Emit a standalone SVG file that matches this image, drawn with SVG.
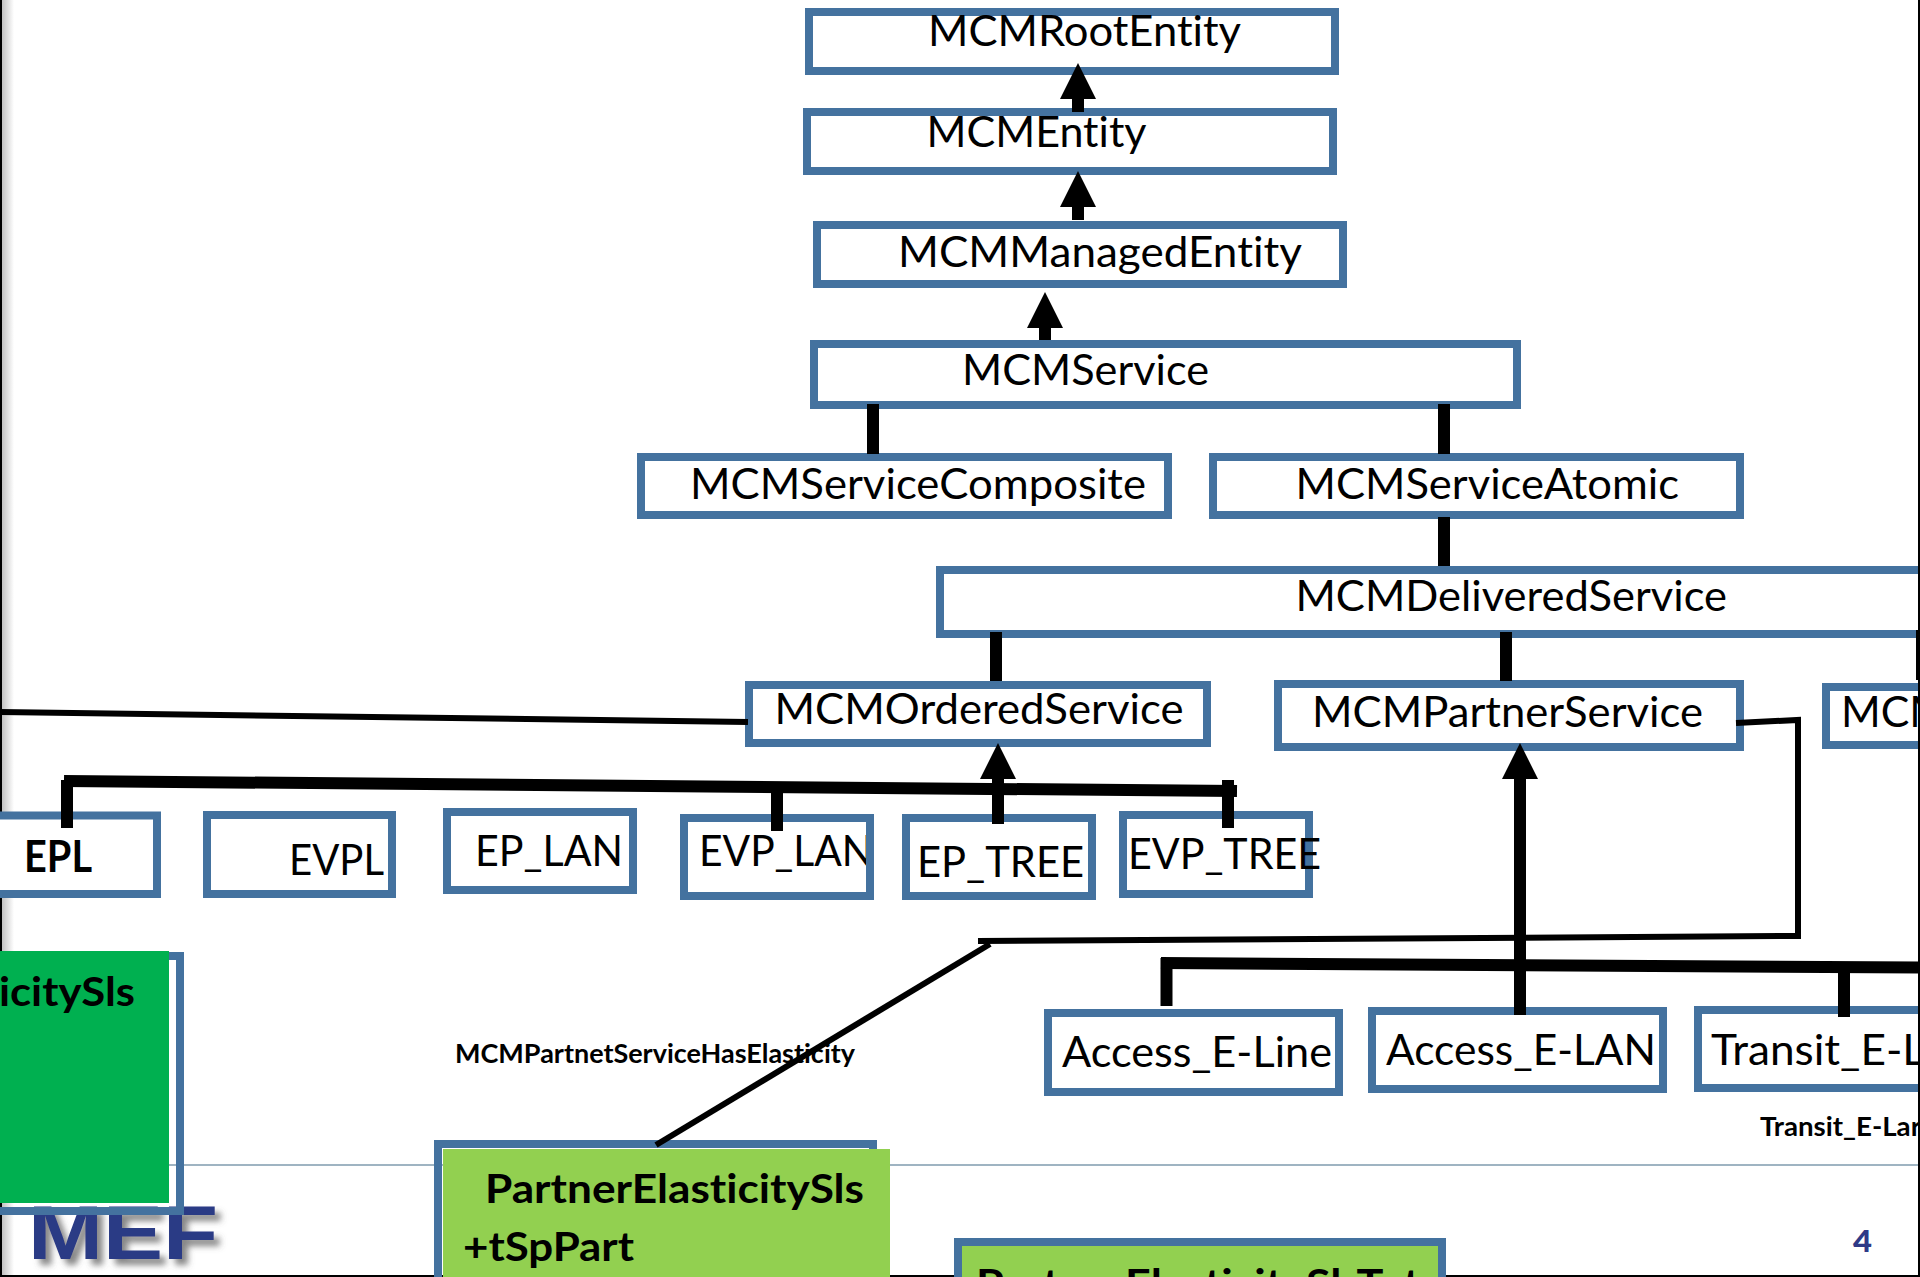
<svg xmlns="http://www.w3.org/2000/svg" width="1920" height="1277" viewBox="0 0 1920 1277">
<style>
.box{fill:#fff;stroke:#44729f;stroke-width:8}
.frame{fill:none;stroke:#44729f;stroke-width:8}
.t{font-family:Lato,"Liberation Sans",sans-serif;font-size:43px;fill:#000;font-variant-ligatures:none}
.b{font-family:Lato,"Liberation Sans",sans-serif;font-weight:700;fill:#000;font-variant-ligatures:none}
.thick{fill:none;stroke:#000;stroke-width:12}
.thin{fill:none;stroke:#000;stroke-width:6}
.head{marker-end:url(#tri)}
</style>
<defs>
<marker id="tri" markerUnits="userSpaceOnUse" markerWidth="36" markerHeight="36" refX="0" refY="18" orient="auto" viewBox="0 0 36 36"><path d="M0 0L36 18L0 36Z" fill="#000"/></marker>
<linearGradient id="edge" x1="0" x2="1" y1="0" y2="0"><stop offset="0" stop-color="#000"/><stop offset=".14" stop-color="#000"/><stop offset=".17" stop-color="#c4c4c4"/><stop offset="1" stop-color="#fff"/></linearGradient>
<filter id="shadow" x="-10%" y="-10%" width="125%" height="130%"><feDropShadow dx="6" dy="6" stdDeviation="3" flood-color="#555" flood-opacity=".7"/></filter>
</defs>
<rect width="1920" height="1277" fill="#fff"/>
<g id="frame-edge">
<rect x="0" y="0" width="14" height="1277" fill="url(#edge)"/>
<rect x="0" y="1275" width="1920" height="2" fill="#000"/>
<line x1="0" y1="1165" x2="1920" y2="1165" stroke="#9fb4c2" stroke-width="2"/>
</g>
<g id="logo"><text class="b" x="28" y="1259" font-size="76" textLength="190" lengthAdjust="spacingAndGlyphs" style="font-family:'Liberation Sans',sans-serif;fill:#2b3a85" filter="url(#shadow)">MEF</text></g>
<g id="MCMRootEntity"><rect class="box" x="809" y="12" width="526" height="59"/><text class="t" x="928" y="46" textLength="313" lengthAdjust="spacingAndGlyphs">MCMRootEntity</text></g>
<g id="MCMEntity"><rect class="box" x="807" y="112" width="526" height="59"/><text class="t" x="926.5" y="147" textLength="220" lengthAdjust="spacingAndGlyphs">MCMEntity</text></g>
<g id="MCMManagedEntity"><rect class="box" x="817" y="225" width="526" height="59"/><text class="t" x="898" y="267" textLength="404" lengthAdjust="spacingAndGlyphs">MCMManagedEntity</text></g>
<g id="MCMService"><rect class="box" x="814" y="344" width="703" height="61"/><text class="t" x="962" y="385" textLength="247" lengthAdjust="spacingAndGlyphs">MCMService</text></g>
<g id="MCMServiceComposite"><rect class="box" x="641" y="457" width="527" height="58"/><text class="t" x="690" y="499" textLength="456" lengthAdjust="spacingAndGlyphs">MCMServiceComposite</text></g>
<g id="MCMServiceAtomic"><rect class="box" x="1213" y="457" width="527" height="58"/><text class="t" x="1295.5" y="499" textLength="383.5" lengthAdjust="spacingAndGlyphs">MCMServiceAtomic</text></g>
<g id="MCMDeliveredService"><rect class="box" x="940" y="570" width="1000" height="64"/><text class="t" x="1295.5" y="611" textLength="431.5" lengthAdjust="spacingAndGlyphs">MCMDeliveredService</text></g>
<g id="MCMOrderedService"><rect class="box" x="749" y="685" width="458" height="58"/><text class="t" x="774.5" y="724" textLength="409" lengthAdjust="spacingAndGlyphs">MCMOrderedService</text></g>
<g id="MCMPartnerService"><rect class="box" x="1278" y="684" width="462" height="63"/><text class="t" x="1312" y="727" textLength="391" lengthAdjust="spacingAndGlyphs">MCMPartnerService</text></g>
<g id="MCM"><rect class="box" x="1826" y="687" width="120" height="58"/><text class="t" x="1841" y="727" textLength="108" lengthAdjust="spacingAndGlyphs">MCM</text></g>
<g id="EPL"><rect class="box" x="-4" y="815.5" width="161" height="78.5"/><text class="b" x="24" y="872" font-size="43" textLength="68" lengthAdjust="spacingAndGlyphs">EPL</text></g>
<g id="EVPL"><rect class="box" x="207" y="815" width="185" height="79"/><text class="t" x="289" y="875" textLength="95" lengthAdjust="spacingAndGlyphs">EVPL</text></g>
<g id="EP_LAN"><rect class="box" x="447" y="812" width="186" height="78"/><text class="t" x="475" y="866" textLength="148" lengthAdjust="spacingAndGlyphs">EP_LAN</text></g>
<g id="EVP_LAN"><rect x="684" y="818" width="186" height="78" fill="#fff"/><text class="t" x="699" y="866" textLength="174" lengthAdjust="spacingAndGlyphs">EVP_LAN</text><rect class="frame" x="684" y="818" width="186" height="78"/></g>
<g id="EP_TREE"><rect class="box" x="906" y="818" width="186" height="78"/><text class="t" x="917" y="876.5" textLength="167" lengthAdjust="spacingAndGlyphs">EP_TREE</text></g>
<g id="EVP_TREE"><rect class="box" x="1123" y="815" width="186" height="79"/><text class="t" x="1128" y="869" textLength="193" lengthAdjust="spacingAndGlyphs">EVP_TREE</text></g>
<g id="Access_E-Line"><rect class="box" x="1048" y="1013" width="291" height="79"/><text class="t" x="1062" y="1067" textLength="270" lengthAdjust="spacingAndGlyphs">Access_E-Line</text></g>
<g id="Access_E-LAN"><rect class="box" x="1372" y="1011" width="291" height="78"/><text class="t" x="1386" y="1065" textLength="270" lengthAdjust="spacingAndGlyphs">Access_E-LAN</text></g>
<g id="Transit_E-L"><rect class="box" x="1698" y="1010" width="240" height="78"/><text class="t" x="1711" y="1065" textLength="214" lengthAdjust="spacingAndGlyphs">Transit_E-L</text></g>
<g id="ElasticitySls"><rect class="frame" x="-10" y="956" width="190" height="255"/><rect x="0" y="951" width="169" height="252" fill="#00b050"/><text class="b" x="-1" y="1006" font-size="41" textLength="136" lengthAdjust="spacingAndGlyphs">icitySls</text></g>
<g id="PartnerElasticitySls"><rect class="frame" x="438" y="1144" width="435" height="200"/><rect x="443" y="1149" width="447" height="128" fill="#92d050"/><text class="b" x="485" y="1203" font-size="41" textLength="379" lengthAdjust="spacingAndGlyphs">PartnerElasticitySls</text><text class="b" x="463" y="1261" font-size="41" textLength="171" lengthAdjust="spacingAndGlyphs">+tSpPart</text></g>
<g id="PartnerElasticitySlsTot"><rect x="958" y="1242" width="484" height="100" fill="#92d050" stroke="#44729f" stroke-width="8"/><text class="b" x="976" y="1298" font-size="41" textLength="444" lengthAdjust="spacingAndGlyphs">PartnerElasticitySlsTot</text></g>
<g id="labels">
<text class="b" x="455" y="1063" font-size="26" textLength="400" lengthAdjust="spacingAndGlyphs">MCMPartnetServiceHasElasticity</text>
<text class="b" x="1760" y="1136" font-size="26" textLength="161" lengthAdjust="spacingAndGlyphs">Transit_E-Lar</text>
<text x="1853" y="1252" font-size="31" font-weight="900" style="font-family:Lato,'Liberation Sans',sans-serif;fill:#2e3a87" textLength="19" lengthAdjust="spacingAndGlyphs">4</text>
</g>
<g id="connectors">
<line class="thick head" x1="1078" y1="112" x2="1078" y2="99"/>
<line class="thick head" x1="1078" y1="220" x2="1078" y2="207"/>
<line class="thick head" x1="1045" y1="340" x2="1045" y2="328"/>
<line class="thick" x1="873" y1="404" x2="873" y2="454"/>
<line class="thick" x1="1444" y1="404" x2="1444" y2="454"/>
<line class="thick" x1="1444" y1="517" x2="1444" y2="566"/>
<line class="thick" x1="996" y1="632" x2="996" y2="681"/>
<line class="thick" x1="1506" y1="632" x2="1506" y2="681"/>
<line x1="1918" y1="630" x2="1918" y2="680" stroke="#000" stroke-width="4"/>
<polyline class="thin" points="0,712 748,722"/>
<line class="thick" x1="64" y1="781" x2="1237" y2="791"/>
<line class="thick" x1="67" y1="780" x2="67" y2="828"/>
<line class="thick" x1="777" y1="790" x2="777" y2="831"/>
<line class="thick head" x1="998" y1="824" x2="998" y2="779"/>
<line class="thick" x1="1228" y1="780" x2="1228" y2="828"/>
<polyline class="thin" points="1736,723 1798,720 1798,936 978,941"/>
<line class="thin" x1="656" y1="1145" x2="990" y2="944"/>
<line class="thick head" x1="1520" y1="1015" x2="1520" y2="779"/>
<line class="thick" x1="1161" y1="963" x2="1920" y2="967.5"/>
<line class="thick" x1="1166.5" y1="958" x2="1166.5" y2="1006"/>
<line class="thick" x1="1844" y1="966" x2="1844" y2="1017"/>
</g>
<rect id="right-edge" x="1918" y="0" width="2" height="1277" fill="#000"/>
</svg>
